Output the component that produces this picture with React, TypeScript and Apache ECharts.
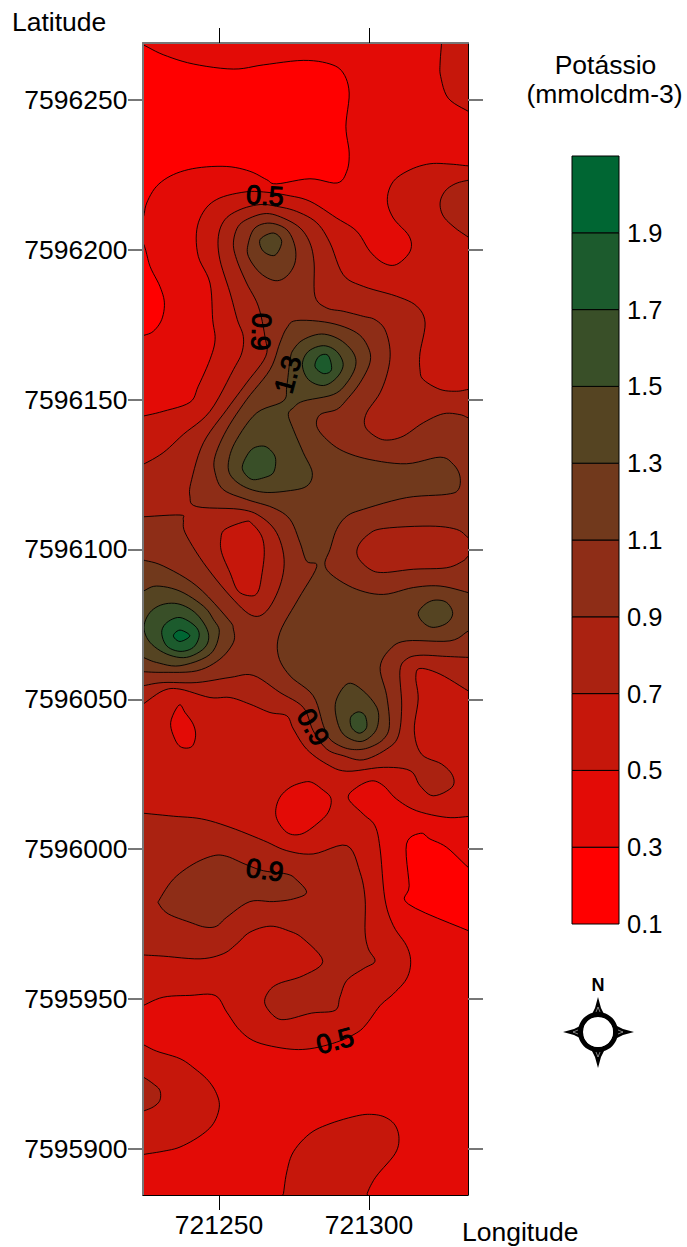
import React, { useEffect, useRef } from "react";
import * as echarts from "echarts";

const lonOrigin = 721200;
const latOrigin = 7595900;
const lonRange = [721224.67, 721333];
const latRange = [7595884.6, 7596269];
const lonTicks = [721250, 721300];
const latTicks = [7595900, 7595950, 7596000, 7596050, 7596100, 7596150, 7596200, 7596250];
const levelLabels = ["0.1", "0.3", "0.5", "0.7", "0.9", "1.1", "1.3", "1.5", "1.7", "1.9", ""];
const bandColors = ["#ff0000", "#e30b06", "#c6170b", "#aa2211", "#8e2d17", "#71391c", "#554422", "#394f28", "#1c5b2d", "#006633"];

// contour outlines: metres east of lonOrigin, metres north of latOrigin
const lowNorth = [[20.3,370],[24.7,368.4],[31.4,365.1],[41.4,362],[54.8,360.3],[64.8,361.7],[78.1,363.2],[87,362],[91.4,359],[93.4,352.3],[92.3,341.2],[93.4,332.3],[92.6,326.2],[89.4,322.3],[80.3,323.7],[69.2,322],[65.9,323.4],[60.3,326.2],[52.6,327.8],[42.6,327.3],[34.8,325.1],[29.2,321.2],[25.9,315.6],[24.7,310.6],[22.5,306.7],[20,340]];
const lowWest = [[20.3,307.8],[24.7,302.3],[27,294.5],[30.3,287.8],[31.8,282.3],[30.9,276.7],[28.1,272.8],[24.8,271.4],[21.4,270.6],[18,290]];
const northEast05 = [[124.4,372.3],[124.2,369],[123.7,362.3],[123.9,357.8],[126.4,350.6],[133.1,346.2],[137,344.3],[139,360],[138,375]];
const lowSouthEast = [[117.2,105.3],[120.3,103.4],[125.9,100.6],[133.1,93.9],[137,91.2],[139,80],[137,71.2],[133.1,72.8],[113.1,81.7],[113.4,87.8],[112.5,101.7]];
const southWest05 = [[21.4,36.2],[24.7,34.8],[29.2,32.6],[37,30.1],[42,26.7],[46.4,22.8],[49.2,18.4],[50.1,13.9],[48.1,8.4],[43.7,4.3],[37,0.6],[31.4,-0.8],[24.7,-1.9],[21.4,-2.7],[18,15]];
const southWest07 = [[21.4,25.6],[24.7,24],[28.1,21.7],[30.3,19.5],[30.3,16.2],[28.1,14],[24.7,12.6],[21.4,11.7],[18,18]];
const south05 = [[71.5,-14.9],[72.6,-7.7],[74.8,-1],[80.3,5.1],[87,8.4],[95.9,11],[100.9,11.5],[105.3,10.6],[108.7,7.9],[110,3.4],[108.7,-1.6],[103.1,-8.3],[100.9,-11.6],[99.4,-14.9],[98.1,-18.8],[71,-18.8]];
const main05 = [[20.3,243.6],[24.7,244.5],[31.4,246.1],[40.3,249.1],[43.1,254.5],[47,263.4],[48.7,270],[47.9,276.7],[47,288.9],[43.1,297.8],[42.6,306.7],[45.3,313.4],[50.3,317.3],[58.7,319.3],[64.8,319.3],[72.6,318.2],[80.3,316.2],[89.2,310.6],[95.9,306.2],[100.3,299.5],[104.8,295.6],[109.2,295.1],[113.7,299.5],[113.4,304.5],[108.1,310.6],[106.1,316.7],[108.1,322.8],[113.7,326.7],[120.3,328.7],[127,328.6],[133.1,328],[137,327.8],[139,250],[137,111.2],[133.1,110.9],[125.9,110.6],[115.9,112.8],[109.2,116.7],[104.8,121.2],[100.9,122.8],[95.9,120.6],[93.1,117],[98.1,111.7],[102,107.8],[103.7,100.1],[105.3,83.4],[108.1,74.5],[112.5,67.8],[113.9,62.3],[112.5,56.7],[108.1,51.7],[103.7,47.8],[99.2,41.7],[95.9,38.7],[89.2,35.6],[80.3,33.4],[72.6,33.4],[62.6,35.6],[57,39.5],[52.6,45.6],[48.7,51.2],[40.3,51.2],[31.4,50.6],[24.7,47.8],[21.4,46.2],[18,150]];
const lowSpotA = [[36.7,148.1],[33.9,142.3],[35.3,136.7],[37.5,134],[40.9,134.2],[42.2,137.8],[41.4,141.7],[38.7,145.6]];
const lowSpotB = [[78.1,122.3],[80.9,122.3],[84.2,120.1],[87.3,117],[86.4,112.3],[82.6,108.4],[77.6,105.1],[73.1,105.3],[69.8,109],[68.9,112.8],[70.3,117.3],[73.7,120.6]];
const east07 = [[133.1,323.2],[128.7,322],[125.3,319.5],[123.7,315.6],[124.8,311.2],[128.7,307.3],[133.1,304.2],[137,301.2],[139,315],[137,323.6]];
const main07 = [[21.4,227.3],[24.7,228.4],[31.4,232.3],[38.1,238.4],[47,246.1],[54.8,260],[57.6,265.6],[58.1,271.1],[56.1,276.7],[53.7,285.6],[50.3,296.7],[49.8,304.5],[52,310.1],[57,313.4],[63.7,315.1],[69.2,314.5],[75.9,312.8],[82.6,309],[87,302.3],[91.4,291.7],[98.1,287.8],[109.2,284.5],[115.9,281.2],[118.7,275.6],[117,265.6],[117,260],[118.1,256.7],[123.7,253.4],[129.2,252.8],[133.1,253.4],[137,253.9],[139,200],[137,150.6],[133.1,152.8],[123.7,158.4],[117,160.3],[115.6,157.3],[116.4,150.1],[115.1,139.5],[117.5,131.7],[124.2,128.4],[127.9,124.5],[127.6,120.6],[121.4,117.8],[117,121.2],[113.7,126.2],[104.8,127.3],[92.6,126],[85.9,128.4],[79.2,133.4],[74.8,140.1],[72.6,144.5],[67,145.6],[60.3,148.4],[53.7,150.6],[47,150.6],[37,153.4],[31.4,152.9],[24.7,148.4],[21.4,146.2],[18,190]];
const pocket05 = [[58.7,209.3],[60.9,208.7],[64.2,204.5],[65.1,198.9],[64.2,191.1],[63.1,186.1],[60.9,184.5],[56.4,186.1],[53.7,192.2],[50.9,198.9],[50.6,203.4],[52,206.7]];
const south07 = [[21.4,112.3],[24.7,112],[34.8,111],[44.2,110.1],[53.7,107.3],[64.8,102.9],[72.6,99.5],[81.4,98.4],[92.6,101.2],[97,92.3],[98.7,83.4],[98.7,72.3],[99.8,66.7],[102,62.6],[98.1,60.1],[92.6,56.2],[90.3,50.6],[88.7,46.2],[80.9,45.3],[72.6,43.2],[68.7,44],[65.3,48.4],[66.4,52.3],[69.8,55.1],[78.1,57.8],[84.6,62.6],[78.1,70.1],[73.1,72.8],[67,74.3],[60.3,72.3],[55.9,68.4],[51.4,65.1],[43.7,63.4],[31.4,64.3],[24.7,64.7],[21.4,65],[18,90]];
const south09 = [[30.3,83.4],[34.8,90],[41.4,95],[48.1,97.8],[52.6,97.6],[58.7,95],[64.8,92.8],[72.6,91.7],[75.6,90],[79.2,85.6],[74.8,83.4],[68.1,82.5],[60.3,82.5],[52.6,77.3],[49.2,74.3],[45.3,74],[40.3,75.6],[33.1,78.4],[30,81.7]];
const main09 = [[21.4,210.7],[24.7,210.9],[37,211.5],[38.1,210],[38.7,205.6],[44.8,195.6],[53.7,184.5],[60.9,178],[65.9,179.5],[70.3,187.8],[71.7,196.7],[69.2,205.6],[63.7,211.1],[57,213.4],[42.6,214.3],[40.3,217.8],[40.9,223.4],[44.8,235.6],[52.6,246.7],[59.2,255.6],[65.6,264.5],[65.3,271.1],[63.1,281.2],[59.2,288.9],[55.9,296.7],[54.8,302.3],[56.4,307.8],[60.3,310.6],[65.9,312.1],[71.4,310.6],[77,307.3],[80.3,302.3],[81.7,295.6],[82,284.5],[85.9,280.6],[91.4,279.5],[98.1,277.8],[102,276.7],[105.3,273.4],[107,266.7],[106.4,260],[103.7,252.3],[99.2,245.6],[98.7,241.1],[102,237.8],[105.9,236.5],[111.4,237.8],[118.1,242.3],[124.8,245.3],[130.3,245],[133.1,243.9],[137,242.3],[139,210],[137,164],[133.1,164],[125.9,164.3],[117,164.7],[112.5,163.4],[110.3,159.5],[110.9,147.8],[109.8,137.8],[105.9,133.4],[98.1,129.8],[91.4,131.2],[85.9,133.4],[81.4,139.5],[78.1,147.3],[70.3,152.3],[61.4,158],[53.7,157.3],[42.6,155.6],[31.4,155.6],[24.7,154.5],[21.4,153.8],[18,180]];
const north11 = [[59.8,302.3],[62,307.3],[67,308.9],[72.6,306.7],[75.3,301.2],[75.3,295.6],[72.6,291.2],[68.7,289.7],[63.7,292.3],[59.8,297.8]];
const north13 = [[63.7,303.4],[68.1,305.6],[70.9,302.8],[68.7,298.2],[64.8,299.5]];
const central11 = [[72.6,273.9],[75.9,276.4],[87,275.6],[95.9,272.3],[99.8,267.3],[100.3,262.3],[97,255.6],[92.6,250],[89.2,246.7],[83.7,245],[82.6,241.1],[85.9,236.7],[91.4,232.8],[100.3,230],[112.5,228.6],[123.7,230.8],[128.1,228.4],[130.3,224.5],[129.8,220],[125.9,218.4],[112.5,217.3],[98.1,213.4],[92.6,211.1],[89.2,206.7],[87,200],[85.3,195],[88.1,191.1],[95.9,186.7],[104.8,185],[114.8,187.3],[123.7,187.8],[133.1,185.6],[137,184.3],[137,174.5],[133.1,172.8],[127,169.5],[112.5,169.5],[107,166.7],[103.7,160.6],[105.9,151.2],[106.8,141.2],[104.8,136.7],[100.3,134],[95.9,133.2],[91.4,134],[87,136.7],[84.8,141.2],[81.4,151.2],[73.7,157.8],[69.8,164.5],[70.3,172.3],[76.4,183.4],[82.6,194.3],[79.2,196.1],[77,202.3],[73.7,210],[68.1,213.9],[59.2,216.7],[51.4,220],[48.7,225.6],[48.7,231.1],[52.6,240],[59.2,250],[67,260],[70.3,268.9]];
const eastPocket07 = [[133.1,203.9],[137,201.1],[137,200],[133.1,197.8],[131.4,196.2],[125.9,193.9],[114.8,193.4],[104.8,192.3],[100.3,193.4],[96.4,197.3],[96.4,201.1],[99.8,205],[104.8,207],[120.3,207.8],[129.2,206.7]];
const west11 = [[21.4,197.6],[24.7,196.5],[31.4,194.5],[42.6,187.8],[53.1,176.7],[54.8,173.4],[54.8,169],[50.3,163.4],[42.6,159.5],[31.4,159],[24.7,159.2],[21.4,159.3],[18,178]];
const west13 = [[21.4,185],[24.7,186.1],[29.2,187.8],[37,186.1],[44.8,181.1],[48.1,176.7],[50.1,172.3],[47,165],[37,161.2],[29.2,162.3],[24.7,164],[21.4,165.1],[18,175]];
const west15 = [[25,174],[27,179],[31.4,181.7],[37,181.7],[42.6,178.4],[46.4,172.3],[45.3,167.3],[39.2,164],[32.6,165.1],[27,169]];
const west17 = [[30.9,172.3],[32.6,175.6],[37,177.3],[42,174.5],[43.4,171.2],[41.4,167.3],[37,166],[32.6,167.8]];
const west19 = [[34.8,171.2],[37,173.1],[40.3,171.2],[37,169.3]];
const upper13 = [[74.8,266.7],[78.1,270],[84.2,271.9],[90.3,270],[94.8,265.6],[95.5,261.1],[92.6,255.6],[88.1,251.7],[78.1,249.5],[74.8,247.3],[73.1,245],[74.8,240],[78.1,232.3],[81.1,225.6],[79.2,221.1],[72.6,219.5],[64.8,219.1],[58.1,221.1],[53.7,225],[53.3,230],[55.9,236.7],[62.6,245.6],[71.4,249.5],[72.6,254.5],[73.7,263.4]];
const upper15 = [[77.8,261.7],[79.8,266.1],[84.8,268],[89.2,266.1],[91.4,261.7],[89.2,257.3],[84.8,254.7],[79.8,256.7]];
const upper17 = [[83.4,264.5],[86.4,264.7],[87.5,260],[84.8,258.7],[82,261.1]];
const middle15 = [[58.1,228.9],[60.9,233.4],[64.8,234.5],[67.5,232.8],[68.9,230],[68.1,225.6],[64.8,223.9],[60.9,223.4],[58.1,226.1]];
const eastSpot13 = [[116.4,178.7],[118.7,181.7],[122,183.1],[125.9,182.3],[127.9,178.7],[125.9,175.4],[121.4,174],[118.1,175.6]];
const lower13 = [[93.1,155.3],[98.1,152.8],[102.6,147.3],[103.1,142.3],[101.4,138.4],[97,135.9],[91.4,138.4],[89,144.5],[89.2,150.1]];
const lower15 = [[96.4,145.8],[98.7,144.5],[99.2,140.6],[96.8,138.7],[94.2,140.6],[93.9,144]];

// paint order, outer to inner: [colour band, outline]
const contourLayers: [number, number[][]][] = [
  [0, lowNorth], [0, lowWest], [2, northEast05], [0, lowSouthEast], [2, southWest05], [3, southWest07], [2, south05],
  [2, main05], [1, lowSpotA], [1, lowSpotB], [3, east07], [3, main07], [2, pocket05], [3, south07], [4, south09],
  [4, main09], [5, north11], [6, north13], [5, central11], [3, eastPocket07], [5, west11], [6, west13], [7, west15],
  [8, west17], [9, west19], [6, upper13], [7, upper15], [8, upper17], [7, middle15], [6, eastSpot13], [6, lower13], [7, lower15],
];

// [east, north, text, rotation in degrees]
const contourLabels: [number, number, string, number][] = [
  [65.3, 318, "0.5", -3],
  [64, 272.6, "0.9", -92],
  [73, 258.4, "1.3", 75],
  [81.3, 140.7, "0.9", -60],
  [65.3, 93, "0.9", -8],
  [88.7, 36, "0.5", 15],
];

const FONT = '"Liberation Sans", Arial, sans-serif';
const AXIS_FONT = 26.5;

function smoothClosed(pts: number[][]): number[][] {
  const n = pts.length;
  const out: number[][] = [];
  for (let i = 0; i < n; i++) {
    const p0 = pts[(i - 1 + n) % n];
    const p1 = pts[i];
    const p2 = pts[(i + 1) % n];
    const p3 = pts[(i + 2) % n];
    for (let s = 0; s < 6; s++) {
      const t = s / 6;
      const t2 = t * t;
      const t3 = t2 * t;
      const f = (a: number, b: number, c: number, d: number) =>
        0.5 * (2 * b + (c - a) * t + (2 * a - 5 * b + 4 * c - d) * t2 + (3 * b - a - 3 * c + d) * t3);
      out.push([f(p0[0], p1[0], p2[0], p3[0]), f(p0[1], p1[1], p2[1], p3[1])]);
    }
  }
  return out;
}

const spike = (pts: number[][]) => ({
  type: "polygon",
  shape: { points: pts },
  style: { fill: "#000" },
  z: 20,
});
const slit = (pts: number[][]) => ({
  type: "polyline",
  shape: { points: pts },
  style: { stroke: "#fff", lineWidth: 0.5, fill: "none" },
  z: 22,
});

function buildOption(): any {
  const line = (color: string, width: number) => ({ show: true, onZero: false, lineStyle: { color, width } });
  const tickStyle = (vals: number[], color: string, width: number) => ({
    show: true,
    length: 15,
    inside: false,
    customValues: vals,
    lineStyle: { color, width },
  });
  const labelStyle = (vals: number[], margin: number, padding: number[]) => ({
    show: true,
    customValues: vals,
    margin,
    padding,
    fontSize: AXIS_FONT,
    fontFamily: FONT,
    color: "#000",
    formatter: (v: number) => String(v),
    showMinLabel: true,
    showMaxLabel: true,
  });
  return {
    animation: false,
    backgroundColor: "#fff",
    grid: [
      { left: 143, top: 43, width: 325, height: 1152, show: true, backgroundColor: bandColors[1], borderWidth: 0 },
      { left: 572, top: 156, width: 47, height: 768, show: false },
    ],
    xAxis: [
      { type: "value", gridIndex: 0, position: "bottom", min: lonRange[0], max: lonRange[1], z: 10, axisLine: line("#000", 1), axisTick: tickStyle(lonTicks, "#000", 1), axisLabel: labelStyle(lonTicks, 16, [0, 0, 0, 0]), splitLine: { show: false } },
      { type: "value", gridIndex: 0, position: "top", min: lonRange[0], max: lonRange[1], z: 10, axisLine: line("#777", 2), axisTick: tickStyle(lonTicks, "#000", 1), axisLabel: { show: false }, splitLine: { show: false } },
      { type: "value", gridIndex: 1, min: 0, max: 1, show: false },
    ],
    yAxis: [
      { type: "value", gridIndex: 0, position: "left", min: latRange[0], max: latRange[1], z: 10, axisLine: line("#777", 2), axisTick: tickStyle(latTicks, "#777", 2), axisLabel: labelStyle(latTicks, 15.5, [4, 0, 0, 0]), splitLine: { show: false } },
      { type: "value", gridIndex: 0, position: "right", min: latRange[0], max: latRange[1], z: 10, axisLine: line("#000", 1), axisTick: tickStyle(latTicks, "#777", 2), axisLabel: { show: false }, splitLine: { show: false } },
      {
        type: "category",
        gridIndex: 1,
        position: "right",
        data: levelLabels,
        boundaryGap: false,
        axisLine: { show: false },
        axisTick: { show: false },
        axisLabel: { show: true, interval: 0, margin: 8, fontSize: 25.5, fontFamily: FONT, color: "#000" },
        splitLine: { show: false },
      },
    ],
    series: [
      {
        type: "custom",
        xAxisIndex: 0,
        yAxisIndex: 0,
        clip: true,
        z: 2,
        silent: true,
        data: contourLayers.map((_, i) => [i]),
        encode: { x: [], y: [] },
        renderItem: (params: any, api: any) => {
          const [band, outline] = contourLayers[params.dataIndex];
          const dense = smoothClosed(outline);
          return {
            type: "polygon",
            shape: { points: dense.map((p) => api.coord([lonOrigin + p[0], latOrigin + p[1]])) },
            style: { fill: bandColors[band], stroke: "#000", lineWidth: 0.9 },
          };
        },
      },
      {
        type: "custom",
        xAxisIndex: 0,
        yAxisIndex: 0,
        clip: false,
        z: 6,
        silent: true,
        data: contourLabels.map((_, i) => [i]),
        encode: { x: [], y: [] },
        renderItem: (params: any, api: any) => {
          const [e, n, text, rot] = contourLabels[params.dataIndex];
          const c = api.coord([lonOrigin + e, latOrigin + n]);
          return {
            type: "text",
            x: c[0],
            y: c[1],
            rotation: (rot * Math.PI) / 180,
            style: {
              text,
              font: `27px ${FONT}`,
              fill: "#000",
              stroke: "#000",
              lineWidth: 1,
              align: "center",
              verticalAlign: "middle",
            },
          };
        },
      },
      {
        type: "custom",
        xAxisIndex: 2,
        yAxisIndex: 2,
        clip: false,
        z: 2,
        silent: true,
        data: bandColors.map((_, i) => [i]),
        encode: { x: [], y: [] },
        renderItem: (params: any, api: any) => {
          const i = params.dataIndex;
          const a = api.coord([0, i + 1]);
          const b = api.coord([1, i]);
          return {
            type: "rect",
            shape: { x: a[0], y: a[1], width: b[0] - a[0], height: b[1] - a[1] },
            style: { fill: bandColors[i], stroke: "#000", lineWidth: 1 },
          };
        },
      },
    ],
    graphic: [
      { type: "text", x: 12, y: 22, style: { text: "Latitude", font: `${AXIS_FONT}px ${FONT}`, fill: "#000", align: "left", verticalAlign: "middle" } },
      { type: "text", x: 462, y: 1232, style: { text: "Longitude", font: `${AXIS_FONT}px ${FONT}`, fill: "#000", align: "left", verticalAlign: "middle" } },
      { type: "text", x: 605.5, y: 65, style: { text: "Potássio", font: `${AXIS_FONT}px ${FONT}`, fill: "#000", align: "center", verticalAlign: "middle" } },
      { type: "text", x: 604.5, y: 94, style: { text: "(mmolcdm-3)", font: `${AXIS_FONT}px ${FONT}`, fill: "#000", align: "center", verticalAlign: "middle" } },
      { type: "text", x: 598, y: 985, style: { text: "N", font: `bold 18px ${FONT}`, fill: "#000", align: "center", verticalAlign: "middle" } },
      spike([[598, 997], [601, 1008], [606, 1018], [590, 1018], [595, 1008]]),
      spike([[598, 1068], [601, 1057], [606, 1047], [590, 1047], [595, 1057]]),
      spike([[563, 1032], [574, 1029], [584, 1024], [584, 1040], [574, 1035]]),
      spike([[634, 1032], [623, 1029], [613, 1024], [613, 1040], [623, 1035]]),
      { type: "ring", shape: { cx: 598, cy: 1032, r: 20, r0: 15 }, style: { fill: "#000" }, z: 21 },
      { type: "circle", shape: { cx: 598, cy: 1032, r: 15 }, style: { fill: "#fff" }, z: 21 },
      slit([[596, 1012], [598, 1007], [600, 1012]]),
      slit([[596, 1052], [598, 1057], [600, 1052]]),
      slit([[578, 1030], [573, 1032], [578, 1034]]),
      slit([[618, 1030], [623, 1032], [618, 1034]]),
    ],
  };
}

export default function App() {
  const ref = useRef<HTMLDivElement>(null);
  useEffect(() => {
    const chart = echarts.init(ref.current!, undefined, { renderer: "svg" });
    chart.setOption(buildOption());
    return () => chart.dispose();
  }, []);
  return <div ref={ref} style={{ position: "absolute", left: 0, top: 0, width: 687, height: 1247 }} />;
}
